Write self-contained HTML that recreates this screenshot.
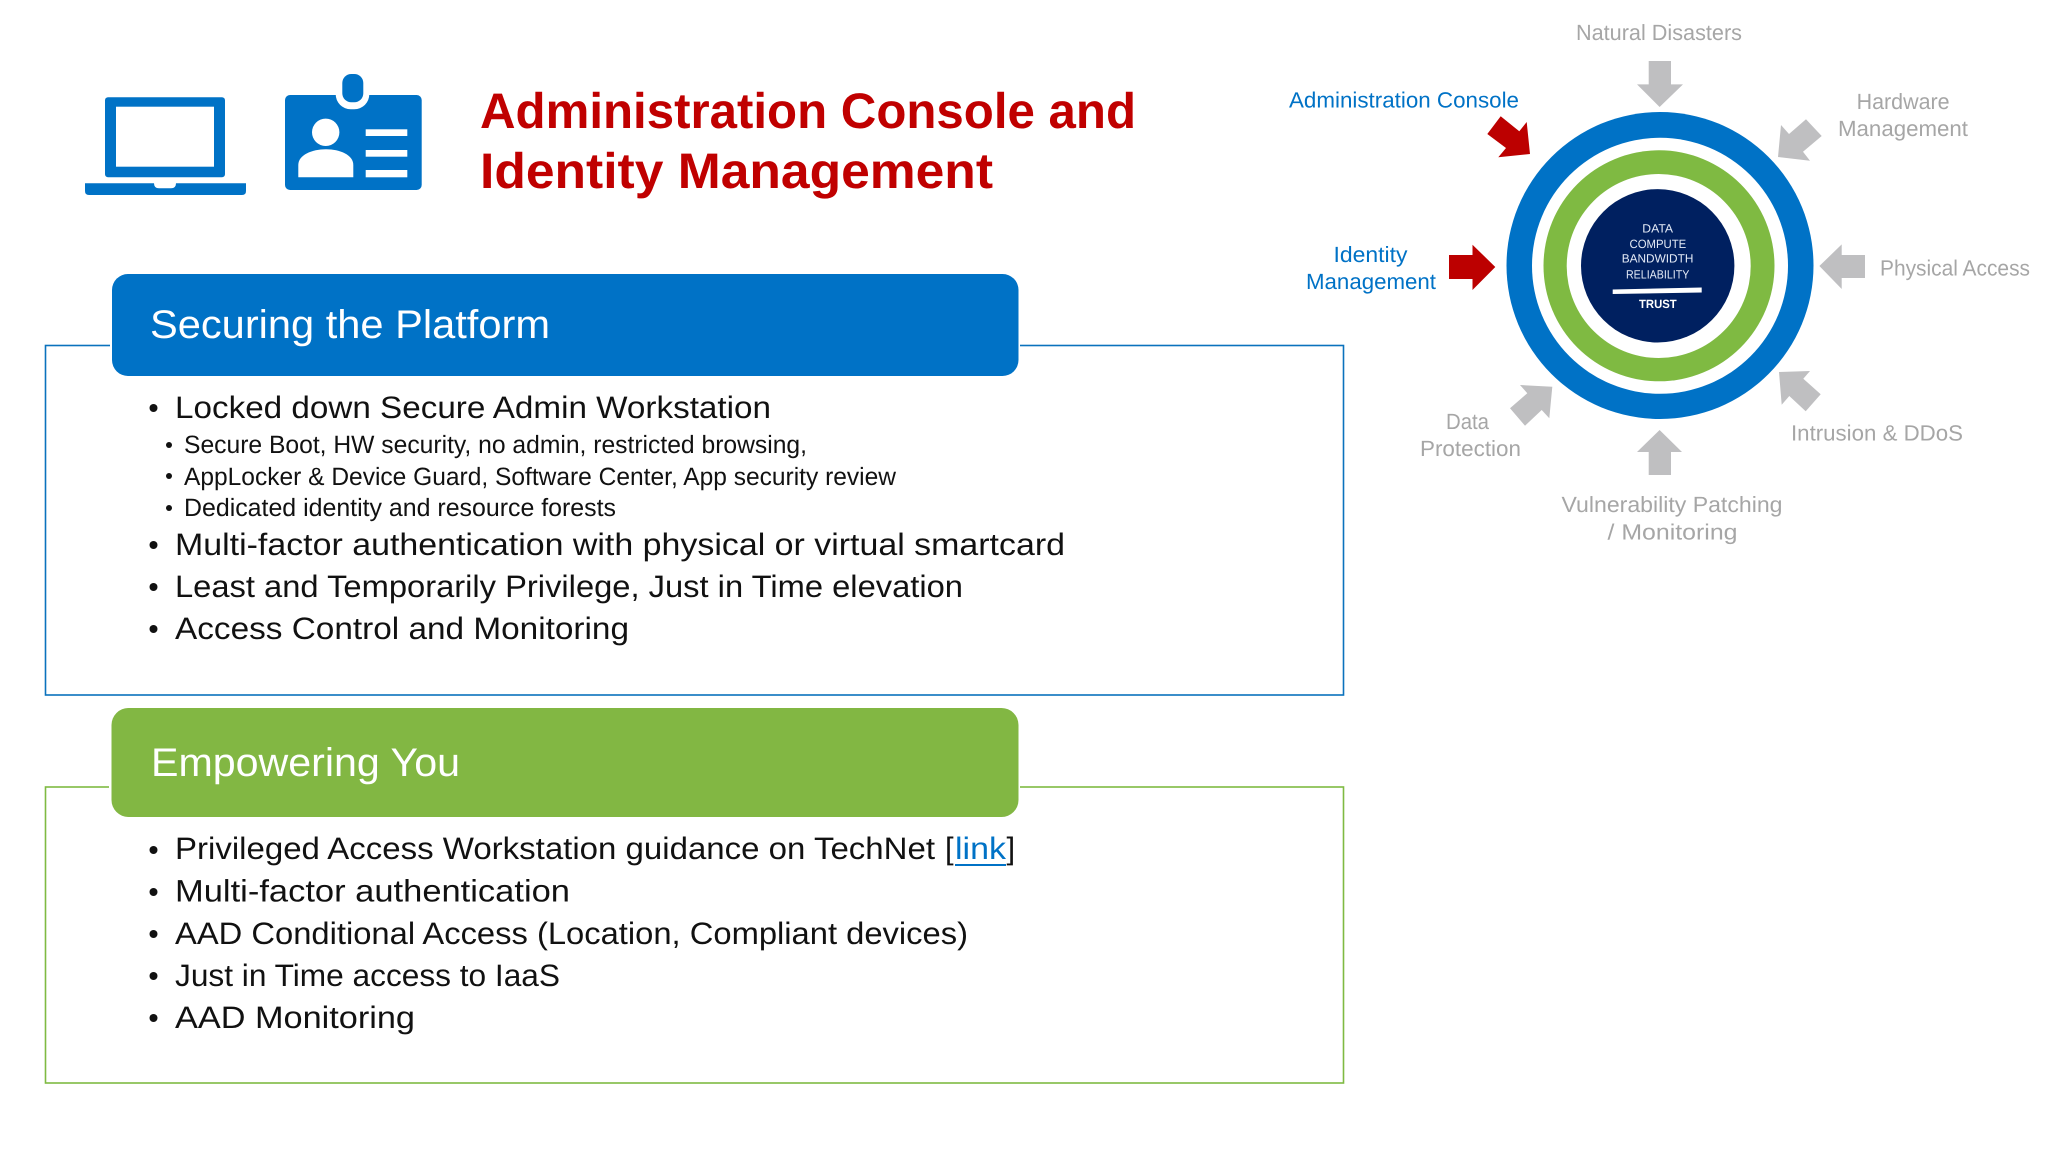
<!DOCTYPE html>
<html><head><meta charset="utf-8"><style>
html,body{margin:0;padding:0;background:#fff;width:2048px;height:1152px;overflow:hidden}
svg{display:block}
text{font-family:"Liberation Sans",sans-serif;text-rendering:geometricPrecision}
.m{font-size:31px;fill:#111}
.s{font-size:25px;fill:#111}
.h{font-size:40px;fill:#fff}
.t{font-size:50px;font-weight:700;fill:#c00000}
.g{font-size:22px;fill:#a6a6a6}
.b{font-size:22px;fill:#0072c6}
.c{font-size:12px;fill:#e4ebf7}
</style></head><body>
<svg width="2048" height="1152" viewBox="0 0 2048 1152" xmlns="http://www.w3.org/2000/svg">
<rect width="2048" height="1152" fill="#fff"/>

<!-- laptop -->
<rect x="105" y="97.300" width="120" height="80" rx="3" fill="#0072c6"/>
<rect x="116" y="106.700" width="98" height="60" fill="#fff"/>
<path d="M85 183.300H154Q154 188.300 159 188.300H171Q176 188.300 176 183.300H246V191Q246 195 242 195H89Q85 195 85 191Z" fill="#0072c6"/>
<!-- badge -->
<rect x="285" y="95" width="136.700" height="95" rx="5" fill="#0072c6"/>
<rect x="335.700" y="70" width="33.600" height="39.300" rx="15" fill="#fff"/>
<rect x="342.300" y="74" width="21" height="28.300" rx="9" fill="#0072c6"/>
<circle cx="325.700" cy="132.300" r="13.700" fill="#fff"/>
<path d="M298.300 177.300V165C298.300 155 312 149.300 326 149.300C340 149.300 353.300 155 353.300 165V177.300Z" fill="#fff"/>
<rect x="365.700" y="129.300" width="41.600" height="6.700" fill="#fff"/>
<rect x="365.700" y="150" width="41.600" height="6.700" fill="#fff"/>
<rect x="365.700" y="170" width="41.600" height="7.300" fill="#fff"/>
<!-- title -->
<text class="t" x="480" y="128" textLength="656" lengthAdjust="spacingAndGlyphs">Administration Console and</text>
<text class="t" x="480" y="188" textLength="513" lengthAdjust="spacingAndGlyphs">Identity Management</text>

<!-- box 1 -->
<rect x="45.500" y="345.500" width="1298" height="349.500" fill="#fff" stroke="#0a72bd" stroke-width="1.600"/>
<rect x="110" y="273" width="910" height="104" rx="17" fill="#fff"/>
<rect x="112" y="274" width="906.500" height="102" rx="16" fill="#0072c6"/>
<text class="h" x="150" y="338" textLength="400" lengthAdjust="spacingAndGlyphs">Securing the Platform</text>

<circle cx="153.500" cy="408" r="4" fill="#111"/>
<text class="m" x="175" y="418" textLength="596" lengthAdjust="spacingAndGlyphs">Locked down Secure Admin Workstation</text>
<circle cx="169" cy="445" r="3" fill="#111"/>
<text class="s" x="184" y="453" textLength="623" lengthAdjust="spacingAndGlyphs">Secure Boot, HW security, no admin, restricted browsing,</text>
<circle cx="169" cy="476" r="3" fill="#111"/>
<text class="s" x="184" y="485" textLength="712" lengthAdjust="spacingAndGlyphs">AppLocker &amp; Device Guard, Software Center, App security review</text>
<circle cx="169" cy="508" r="3" fill="#111"/>
<text class="s" x="184" y="516" textLength="432" lengthAdjust="spacingAndGlyphs">Dedicated identity and resource forests</text>
<circle cx="153.500" cy="545" r="4" fill="#111"/>
<text class="m" x="175" y="555" textLength="890" lengthAdjust="spacingAndGlyphs">Multi-factor authentication with physical or virtual smartcard</text>
<circle cx="153.500" cy="587" r="4" fill="#111"/>
<text class="m" x="175" y="597" textLength="788" lengthAdjust="spacingAndGlyphs">Least and Temporarily Privilege, Just in Time elevation</text>
<circle cx="153.500" cy="629" r="4" fill="#111"/>
<text class="m" x="175" y="639" textLength="454" lengthAdjust="spacingAndGlyphs">Access Control and Monitoring</text>

<!-- box 2 -->
<rect x="45.500" y="787" width="1298" height="296" fill="#fff" stroke="#7fba42" stroke-width="1.600"/>
<rect x="109" y="707" width="911" height="111" rx="18" fill="#fff"/>
<rect x="111.500" y="708" width="907" height="109" rx="17" fill="#82b743"/>
<text class="h" x="151" y="776" textLength="309" lengthAdjust="spacingAndGlyphs">Empowering You</text>

<circle cx="153.500" cy="850" r="4" fill="#111"/>
<text class="m" x="175" y="859" textLength="760" lengthAdjust="spacingAndGlyphs">Privileged Access Workstation guidance on TechNet</text>
<text class="m" x="945" y="859">[</text>
<text class="m" x="955" y="859" textLength="51" lengthAdjust="spacingAndGlyphs" style="fill:#0072c6">link</text>
<rect x="955" y="864" width="51" height="2" fill="#0072c6"/>
<text class="m" x="1006.500" y="859">]</text>
<circle cx="153.500" cy="892" r="4" fill="#111"/>
<text class="m" x="175" y="901.500" textLength="395" lengthAdjust="spacingAndGlyphs">Multi-factor authentication</text>
<circle cx="153.500" cy="934" r="4" fill="#111"/>
<text class="m" x="175" y="944" textLength="793" lengthAdjust="spacingAndGlyphs">AAD Conditional Access (Location, Compliant devices)</text>
<circle cx="153.500" cy="976" r="4" fill="#111"/>
<text class="m" x="175" y="986" textLength="385" lengthAdjust="spacingAndGlyphs">Just in Time access to IaaS</text>
<circle cx="153.500" cy="1018" r="4" fill="#111"/>
<text class="m" x="175" y="1028" textLength="240" lengthAdjust="spacingAndGlyphs">AAD Monitoring</text>

<!-- rings -->
<circle cx="1660" cy="265.500" r="153.500" fill="#0072c6"/>
<circle cx="1660" cy="265.800" r="128" fill="#fff"/>
<circle cx="1659" cy="265.800" r="115.500" fill="#7fba42"/>
<circle cx="1658.700" cy="266" r="92" fill="#fff"/>
<circle cx="1657.700" cy="265.800" r="76.700" fill="#002060"/>
<text class="c" x="1642.300" y="232.700" textLength="30.700" lengthAdjust="spacingAndGlyphs">DATA</text>
<text class="c" x="1629.500" y="248" textLength="56.700" lengthAdjust="spacingAndGlyphs">COMPUTE</text>
<text class="c" x="1621.700" y="262.700" textLength="71.700" lengthAdjust="spacingAndGlyphs">BANDWIDTH</text>
<text class="c" x="1626" y="278.300" textLength="63.300" lengthAdjust="spacingAndGlyphs">RELIABILITY</text>
<polygon points="1612.700,289.500 1701.700,287.500 1701.700,292.500 1612.700,294" fill="#fff"/>
<text class="c" x="1639" y="308" textLength="37.700" lengthAdjust="spacingAndGlyphs" style="font-weight:700;fill:#fff">TRUST</text>

<!-- red arrows -->
<polygon points="1500.700,116.300 1519.300,131.300 1526.700,122 1530,154 1498.300,157.300 1506,148 1487.300,134" fill="#bc0000"/>
<polygon points="1449,255 1472.500,255 1472.500,244.700 1495.300,267 1472.500,290 1472.500,279 1449,279" fill="#bc0000"/>
<!-- grey arrows -->
<g fill="#bfbfc1">
<polygon points="1648.700,61 1671,61 1671,84.400 1683,84.400 1659.600,107 1637,84.400 1648.700,84.400"/>
<polygon points="1778,157 1781,125 1789,134 1806,119.300 1821.700,136 1803,151.700 1810,160.700"/>
<polygon points="1819.400,266 1841.700,244.400 1841.700,255 1865,255 1865,278 1841.700,278 1841.700,289"/>
<polygon points="1779,372 1810,371 1803.300,378.700 1820.700,394.300 1805.700,411.300 1789.300,396 1781.700,404.700"/>
<polygon points="1659.600,430 1682,452 1671,452 1671,475 1648.700,475 1648.700,452 1637,452"/>
<polygon points="1552.300,386.700 1549.300,418.300 1541.700,410 1525,425.700 1510,408.300 1527.300,393.300 1520,385"/>
</g>
<!-- labels -->
<text class="g" x="1576" y="40" textLength="166" lengthAdjust="spacingAndGlyphs">Natural Disasters</text>
<text class="b" x="1289" y="107.600" textLength="230" lengthAdjust="spacingAndGlyphs">Administration Console</text>
<text class="g" x="1856.600" y="109" textLength="93" lengthAdjust="spacingAndGlyphs">Hardware</text>
<text class="g" x="1838" y="136" textLength="130" lengthAdjust="spacingAndGlyphs">Management</text>
<text class="b" x="1333.500" y="262" textLength="74" lengthAdjust="spacingAndGlyphs">Identity</text>
<text class="b" x="1306" y="289" textLength="130" lengthAdjust="spacingAndGlyphs">Management</text>
<text class="g" x="1880" y="275.600" textLength="150" lengthAdjust="spacingAndGlyphs">Physical Access</text>
<text class="g" x="1791" y="440.700" textLength="172" lengthAdjust="spacingAndGlyphs">Intrusion &amp; DDoS</text>
<text class="g" x="1446" y="429" textLength="43" lengthAdjust="spacingAndGlyphs">Data</text>
<text class="g" x="1420" y="456" textLength="101" lengthAdjust="spacingAndGlyphs">Protection</text>
<text class="g" x="1561.500" y="512" textLength="221" lengthAdjust="spacingAndGlyphs">Vulnerability Patching</text>
<text class="g" x="1607.500" y="539.500" textLength="130" lengthAdjust="spacingAndGlyphs">/ Monitoring</text>
</svg>
</body></html>
